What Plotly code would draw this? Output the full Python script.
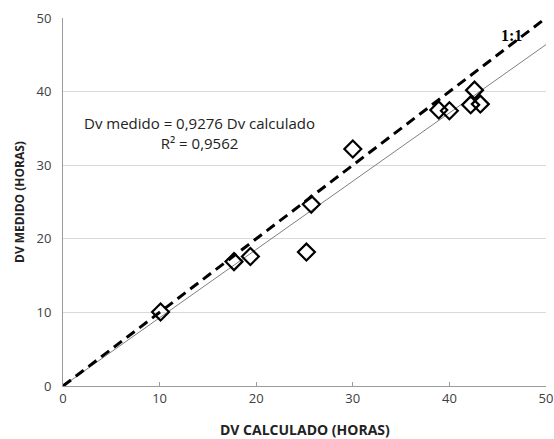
import plotly.graph_objects as go

dv_calculado = [10.1, 17.7, 19.4, 25.2, 25.7, 30.0, 38.9, 40.0, 42.2, 43.2, 42.6]
dv_medido = [10.05, 16.9, 17.6, 18.2, 24.7, 32.2, 37.5, 37.4, 38.2, 38.3, 40.2]
slope = 0.9276
r2_text = "R² = 0,9562"
eq_text = "Dv medido = 0,9276 Dv calculado"
x_title = "DV CALCULADO (HORAS)"
y_title = "DV MEDIDO (HORAS)"
line_x = [0, 50]
one_to_one = [0, 50]
x_ticks = [0, 10, 20, 30, 40, 50]
y_ticks = [0, 10, 20, 30, 40, 50]

font_main = "Open Sans, Calibri, sans-serif"

fig = go.Figure()
fig.add_trace(go.Scatter(
    x=line_x, y=[slope * v for v in line_x], mode="lines",
    line=dict(color="#7f7f7f", width=1), showlegend=False, hoverinfo="skip"))
fig.add_trace(go.Scatter(
    x=line_x, y=one_to_one, mode="lines",
    line=dict(color="black", width=3, dash="10px,6px"), showlegend=False, hoverinfo="skip"))
fig.add_trace(go.Scatter(
    x=dv_calculado, y=dv_medido, mode="markers",
    marker=dict(symbol="diamond-open", size=13, color="black", line=dict(width=2.2, color="black")),
    showlegend=False))

fig.add_annotation(x=14.1, y=34.4, xref="x", yref="y", text=eq_text + "<br>" + r2_text,
                   showarrow=False, align="center",
                   font=dict(family=font_main, size=15, color="#222"))
fig.add_annotation(x=46.4, y=47.6, xref="x", yref="y", text="<b>1:1</b>", showarrow=False,
                   font=dict(family="Liberation Serif, serif", size=16, color="black"))

# axis titles placed as annotations for exact positioning
fig.add_annotation(x=0.5, y=0, xref="paper", yref="paper", yanchor="middle", yshift=-43,
                   text="<b>" + x_title + "</b>", showarrow=False,
                   font=dict(family=font_main, size=14, color="#222"))
fig.add_annotation(x=0, y=0.5, xref="paper", yref="paper", xanchor="center", xshift=-44,
                   text="<b>" + y_title + "</b>", showarrow=False, textangle=-90,
                   font=dict(family=font_main, size=12, color="#222"))

fig.update_layout(
    width=554, height=439,
    margin=dict(l=63, r=8, t=18, b=53),
    paper_bgcolor="white", plot_bgcolor="white",
    font=dict(family=font_main, size=13, color="#333"),
)
fig.update_xaxes(range=[0, 50], tickvals=x_ticks, showgrid=False, zeroline=False, automargin=False,
                 showline=True, linecolor="#9a9a9a", linewidth=1,
                 ticks="inside", ticklen=4, tickcolor="#9a9a9a",
                 tickfont=dict(size=13, color="#404040"))
fig.update_yaxes(range=[0, 50], tickvals=y_ticks, showgrid=True, gridcolor="#d9d9d9", gridwidth=1,
                 zeroline=False, showline=True, linecolor="#9a9a9a", linewidth=1, ticks="", automargin=False,
                 tickfont=dict(size=13, color="#404040"), ticklabelstandoff=8)

fig.write_html("out.html", config={"displayModeBar": False},
               post_script="document.body.style.margin='0px';")
